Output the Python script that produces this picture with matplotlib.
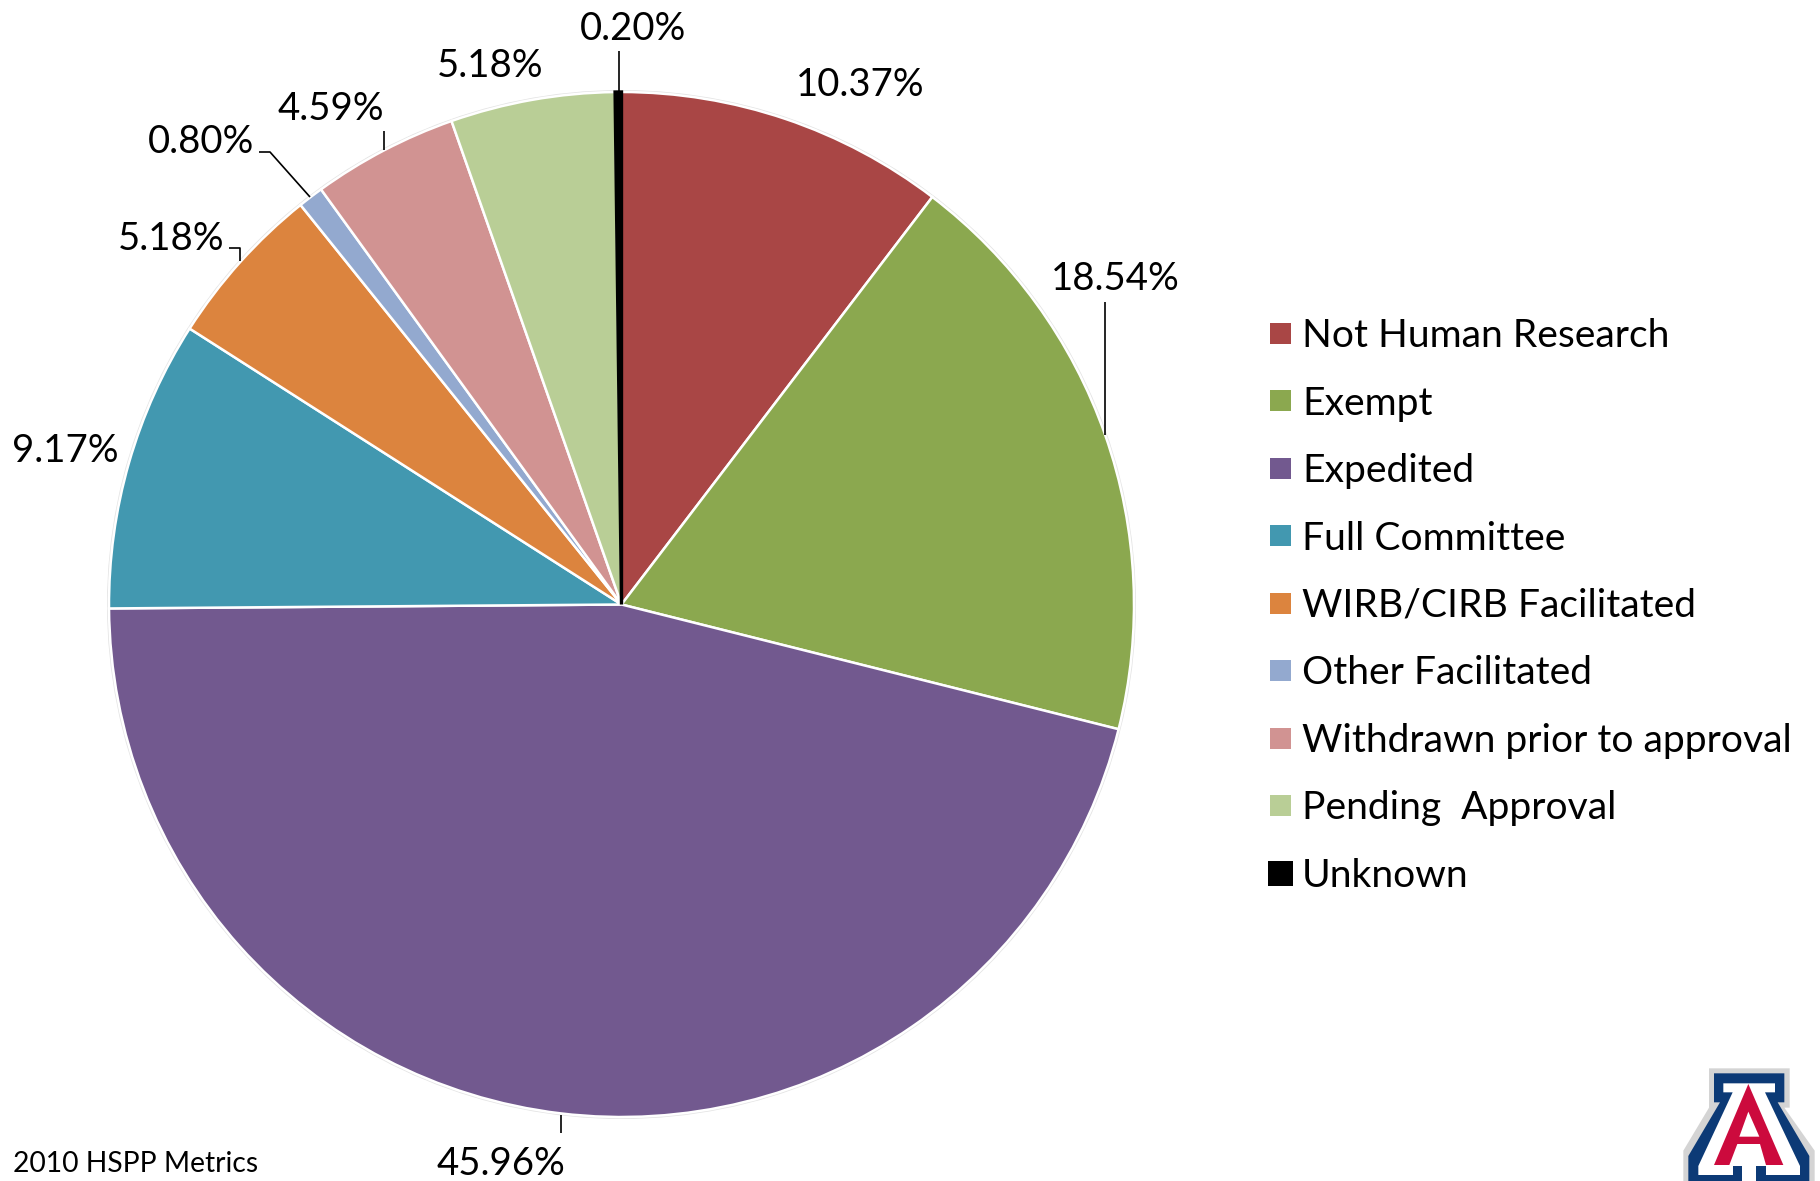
import matplotlib
matplotlib.use("Agg")
import matplotlib.pyplot as plt
from matplotlib.patches import Circle, Polygon, Rectangle

W, H = 1820, 1181

categories = ["Not Human Research", "Exempt", "Expedited", "Full Committee",
              "WIRB/CIRB Facilitated", "Other Facilitated",
              "Withdrawn prior to approval", "Pending  Approval", "Unknown"]
shares = [10.37, 18.54, 45.96, 9.17, 5.18, 0.80, 4.59, 5.18, 0.20]
colors = ["#A94645", "#8BA84F", "#72598F", "#4298B0", "#DC843E",
          "#93A9CF", "#D19392", "#B9CE96", "#000000"]

plt.rcParams["font.family"] = ["Lato", "DejaVu Sans"]

# everything below is placed in image pixels, y flipped by py()
CX, CY, R = 621.5, 604.5, 512.5
label_xy = [(860, 85), (1115, 279), (501, 1164), (65, 451), (171, 239),
            (201, 142), (331, 109), (490, 66), (633, 29)]
leaders = [None,
           [(1105, 302), (1105, 435)],
           [(560.5, 1115), (560.5, 1133)],
           None,
           [(229, 248), (240, 248), (240, 261)],
           [(259, 152), (270, 152), (310, 197)],
           [(384, 131), (384, 150)],
           None,
           [(618.5, 51), (618.5, 92)]]
LEG_X, LEG_Y0, LEG_DY = 1270, 333, 67.5


def py(y):
    return H - y


fig = plt.figure(figsize=(W / 100, H / 100), dpi=100)
ax = fig.add_axes([0, 0, 1, 1])

ax.add_patch(Circle((CX, py(CY)), R + 2, fc="#E4E4E4", ec="none", zorder=0))
wedges, _ = ax.pie(shares, colors=colors, startangle=90, counterclock=False,
                   center=(CX, py(CY)), radius=R,
                   wedgeprops={"edgecolor": "white", "linewidth": 1.8})
wedges[-1].set_edgecolor("black")
wedges[-1].set_linewidth(2.4)
wedges[-1].set_zorder(wedges[0].get_zorder() + 1)

ax.set_xlim(0, W)
ax.set_ylim(0, H)
ax.set_aspect("equal")
ax.axis("off")

# data labels + leader lines
for val, (lx, ly), pts in zip(shares, label_xy, leaders):
    ax.text(lx, py(ly), f"{val:.2f}%", fontsize=27.6, color="black", ha="center", va="center")
    if pts:
        ax.plot([p[0] for p in pts], [py(p[1]) for p in pts], color="black", lw=1.2,
                solid_capstyle="butt", zorder=5)

# legend drawn by hand, Excel-like spacing
for i, (name, col) in enumerate(zip(categories, colors)):
    y = LEG_Y0 + i * LEG_DY
    s = 25 if col == "#000000" else 21
    ax.add_patch(Rectangle((LEG_X + 10.5 - s / 2, py(y) - s / 2), s, s, fc=col, ec="none"))
    ax.text(1302, py(y + 3), name, fontsize=28.1, color="black", ha="left", va="center")

ax.text(13, py(1164), "2010 HSPP Metrics", fontsize=20.3, color="black", ha="left", va="center")


# University logo, traced in crop coordinates (3x, origin 1640,1040)
def lg(points):
    return [(1640 + x / 3, py(1040 + y / 3)) for x, y in points]


outline = [(207, 85), (449, 85), (449, 203), (433, 203), (524, 332), (524, 430), (130, 430),
           (130, 332), (207, 203)]
navy = [(222, 100), (433, 100), (433, 187), (413, 187), (508, 348), (508, 430), (145, 430),
        (145, 348), (240, 187), (222, 187)]
white = [(250, 130), (405, 130), (405, 157), (375, 157), (480, 378), (480, 405), (175, 405),
         (175, 378), (278, 157), (250, 157)]
red = [(325, 132), (430, 375), (378, 375), (360, 312), (292, 312), (268, 375), (222, 375)]
counter = [(325, 215), (358, 290), (298, 290)]
foot_l = [(278, 378), (305, 378), (305, 430), (278, 430)]
gap = [(305, 378), (347, 378), (347, 430), (305, 430)]
foot_r = [(347, 378), (378, 378), (378, 405), (347, 405)]
for pts, col in [(outline, "#D4D4D4"), (navy, "#0C3A76"), (white, "#FFFFFF"), (red, "#CC0A3D"),
                 (counter, "#FFFFFF"), (foot_l, "#0C3A76"), (gap, "#FFFFFF"), (foot_r, "#0C3A76")]:
    ax.add_patch(Polygon(lg(pts), closed=True, fc=col, ec="none", zorder=6))

fig.savefig("out.png", dpi=100, facecolor="white")
